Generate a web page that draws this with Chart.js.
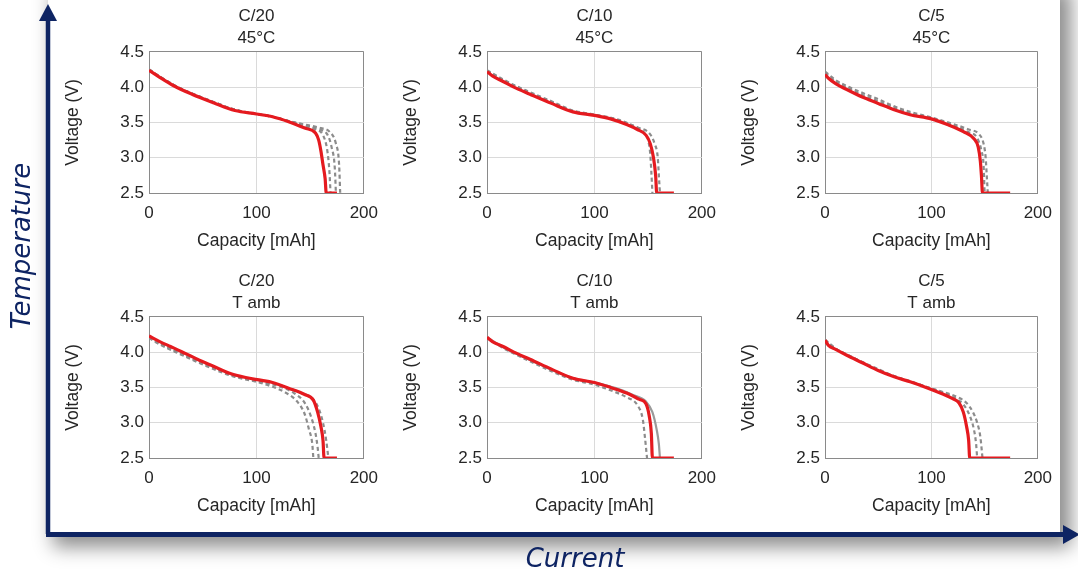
<!doctype html>
<html>
<head>
<meta charset="utf-8">
<title>Discharge curves - current vs temperature</title>
<script src="https://cdn.jsdelivr.net/npm/chart.js@4.4.1/dist/chart.umd.min.js"></script>
<style>
  html, body { margin: 0; padding: 0; background: #fff; }
  body { width: 1078px; height: 575px; position: relative; overflow: hidden; font-family: "Liberation Sans", Arial, sans-serif; }
  #sheet { position: absolute; left: 48px; top: -20px; width: 1012px; height: 552px; background: #fff;
           box-shadow: 8px 12px 18px 3px rgba(0,0,0,0.45); }
  .panel { position: absolute; }
  #arrows { position: absolute; left: 0; top: 0; }
  .big { position: absolute; color: #0e2463; font-style: italic; font-size: 26px; font-family: "DejaVu Sans", sans-serif;
         white-space: nowrap; text-align: center; line-height: 30px; height: 30px; }
</style>
</head>
<body>
<div id="sheet"></div>
<div class="panel" style="left:60px;top:0px"><canvas id="p1" width="328" height="255"></canvas></div>
<div class="panel" style="left:398px;top:0px"><canvas id="p2" width="328" height="255"></canvas></div>
<div class="panel" style="left:736px;top:0px"><canvas id="p3" width="326" height="255"></canvas></div>
<div class="panel" style="left:60px;top:265px"><canvas id="p4" width="328" height="255"></canvas></div>
<div class="panel" style="left:398px;top:265px"><canvas id="p5" width="328" height="255"></canvas></div>
<div class="panel" style="left:736px;top:265px"><canvas id="p6" width="326" height="255"></canvas></div>

<svg id="arrows" width="1078" height="575">
  <line x1="48" y1="534" x2="48" y2="18" stroke="#0e2463" stroke-width="4.5"/>
  <polygon points="39,21 57,21 48,4" fill="#0e2463"/>
  <line x1="46" y1="534.5" x2="1066" y2="534.5" stroke="#0e2463" stroke-width="5"/>
  <polygon points="1063,525 1063,544 1080,534.5" fill="#0e2463"/>
</svg>
<div class="big" style="left:-79px;top:231px;width:200px;transform:rotate(-90deg)">Temperature</div>
<div class="big" style="left:475px;top:543px;width:200px">Current</div>

<script>
// tick labels and panel titles
const rates = ["C/20", "C/10", "C/5"];
const temps = ["45°C", "T amb"];
const xTicks = [0, 100, 200];
const yTicks = [2.5, 3.0, 3.5, 4.0, 4.5];

// C/20, 45°C  [capacity mAh, voltage V]
const c20hot_red = [[0,4.24],[10,4.14],[23,4.02],[40,3.90],[60,3.78],[80,3.67],[100,3.62],[115,3.58],[130,3.51],[145,3.42],[155,3.35],[158,3.25],[160,3.10],[162,2.90],[164,2.70],[165,2.5],[175,2.5]];
const c20hot_g1 = [[0,4.25],[10,4.15],[23,4.03],[40,3.91],[60,3.79],[80,3.68],[100,3.62],[115,3.58],[130,3.52],[145,3.45],[155,3.40],[162,3.32],[166,3.10],[168,2.80],[169,2.5]];
const c20hot_g2 = [[0,4.25],[10,4.15],[23,4.03],[40,3.91],[60,3.79],[80,3.68],[100,3.62],[115,3.58],[130,3.52],[145,3.46],[158,3.40],[166,3.33],[170,3.15],[173,2.85],[174,2.5]];
const c20hot_g3 = [[0,4.25],[10,4.15],[23,4.03],[40,3.91],[60,3.79],[80,3.68],[100,3.62],[115,3.58],[130,3.52],[145,3.47],[160,3.42],[168,3.37],[174,3.20],[177,2.90],[178,2.5]];

// C/10, 45°C
const c10hot_red = [[0,4.22],[5,4.16],[15,4.08],[25,4.00],[40,3.90],[60,3.77],[80,3.65],[100,3.60],[115,3.55],[130,3.47],[140,3.40],[148,3.32],[152,3.20],[155,3.00],[157,2.75],[158,2.5],[174,2.5]];
const c10hot_g1 = [[0,4.24],[15,4.11],[25,4.03],[40,3.93],[60,3.80],[80,3.67],[100,3.61],[120,3.55],[135,3.46],[146,3.36],[150,3.25],[152,3.05],[153,2.80],[154,2.5]];
const c10hot_g2 = [[0,4.23],[15,4.10],[40,3.92],[60,3.79],[80,3.66],[100,3.61],[120,3.54],[140,3.43],[152,3.33],[156,3.20],[159,3.00],[160,2.75],[161,2.5]];

// C/5, 45°C
const c5hot_red = [[0,4.18],[3,4.13],[10,4.05],[20,3.97],[35,3.86],[50,3.77],[65,3.68],[80,3.61],[100,3.55],[115,3.47],[130,3.37],[140,3.27],[144,3.15],[146,2.95],[147,2.75],[148,2.5],[174,2.5]];
const c5hot_g1 = [[0,4.22],[10,4.10],[20,4.02],[35,3.92],[50,3.83],[65,3.73],[80,3.65],[100,3.57],[120,3.48],[135,3.40],[145,3.33],[149,3.20],[151,3.00],[152,2.75],[153,2.5]];
const c5hot_g2 = [[0,4.20],[10,4.08],[20,4.00],[35,3.89],[50,3.80],[65,3.71],[80,3.63],[100,3.56],[120,3.46],[135,3.36],[143,3.28],[147,3.10],[149,2.90],[150,2.5]];

// C/20, T amb
const c20amb_red = [[0,4.23],[10,4.15],[20,4.08],[30,4.01],[45,3.90],[60,3.80],[75,3.70],[90,3.64],[105,3.60],[115,3.57],[130,3.49],[145,3.40],[153,3.32],[157,3.15],[160,2.95],[162,2.75],[163,2.5],[175,2.5]];
const c20amb_g1 = [[0,4.20],[10,4.11],[25,4.00],[45,3.86],[60,3.76],[80,3.65],[100,3.58],[115,3.51],[128,3.42],[138,3.30],[145,3.12],[149,2.90],[152,2.70],[153,2.5]];
const c20amb_g2 = [[0,4.21],[10,4.12],[25,4.01],[45,3.87],[60,3.78],[80,3.66],[100,3.59],[120,3.52],[135,3.42],[145,3.28],[151,3.08],[155,2.85],[157,2.65],[158,2.5]];
const c20amb_g3 = [[0,4.22],[10,4.13],[25,4.02],[45,3.88],[60,3.79],[80,3.67],[100,3.60],[120,3.54],[140,3.43],[153,3.33],[158,3.20],[162,3.00],[165,2.75],[167,2.5]];

// C/10, T amb
const c10amb_red = [[0,4.21],[5,4.15],[15,4.08],[25,4.00],[40,3.90],[60,3.76],[80,3.63],[100,3.57],[115,3.50],[130,3.42],[142,3.33],[148,3.27],[151,3.10],[153,2.85],[154,2.5],[174,2.5]];
const c10amb_g1 = [[0,4.20],[15,4.06],[25,3.98],[40,3.87],[60,3.73],[80,3.61],[100,3.54],[115,3.46],[130,3.36],[140,3.25],[145,3.05],[147,2.80],[149,2.5]];
const c10amb_g2 = [[0,4.21],[15,4.07],[25,3.99],[40,3.89],[60,3.75],[80,3.63],[100,3.57],[120,3.49],[135,3.40],[148,3.30],[154,3.15],[158,2.90],[160,2.70],[161,2.5]];

// C/5, T amb
const c5amb_red = [[0,4.17],[3,4.10],[10,4.04],[20,3.96],[35,3.85],[50,3.74],[65,3.65],[80,3.58],[95,3.50],[110,3.41],[120,3.34],[126,3.28],[130,3.15],[133,2.95],[135,2.75],[136,2.5],[174,2.5]];
const c5amb_g1 = [[0,4.18],[10,4.05],[20,3.97],[35,3.86],[50,3.76],[65,3.66],[80,3.59],[95,3.51],[110,3.44],[125,3.36],[133,3.28],[139,3.15],[143,3.00],[146,2.80],[148,2.5]];
const c5amb_g2 = [[0,4.17],[10,4.05],[20,3.97],[35,3.86],[50,3.75],[65,3.66],[80,3.58],[95,3.51],[110,3.43],[122,3.35],[130,3.26],[136,3.10],[140,2.90],[142,2.70],[143,2.5]];

const panels = [
  { id: "p1", rate: 0, temp: 0, red: c20hot_red, grays: [c20hot_g1, c20hot_g2, c20hot_g3] },
  { id: "p2", rate: 1, temp: 0, red: c10hot_red, grays: [c10hot_g1, c10hot_g2] },
  { id: "p3", rate: 2, temp: 0, red: c5hot_red,  grays: [c5hot_g1, c5hot_g2] },
  { id: "p4", rate: 0, temp: 1, red: c20amb_red, grays: [c20amb_g1, c20amb_g2, c20amb_g3] },
  { id: "p5", rate: 1, temp: 1, red: c10amb_red, grays: [c10amb_g1, c10amb_g2], solid: [1] },
  { id: "p6", rate: 2, temp: 1, red: c5amb_red,  grays: [c5amb_g1, c5amb_g2] }
];

const toXY = arr => arr.map(p => ({ x: p[0], y: p[1] }));
const txt = "#262626";
const edge = "#8a8a8a";
const grid = "#dadada";
const fam = "Liberation Sans";

function makeChart(p) {
  const sets = [{
    data: toXY(p.red), borderColor: "#e51a1f", borderWidth: 3.2
  }];
  p.grays.forEach((g, i) => {
    const solid = p.solid && p.solid.includes(i);
    sets.push({
      data: toXY(g), borderColor: solid ? "#9a9a9a" : "#8c8c8c",
      borderWidth: 2.2, borderDash: solid ? [] : [4, 3]
    });
  });
  new Chart(document.getElementById(p.id), {
    type: "line",
    data: { datasets: sets },
    options: {
      responsive: false,
      animation: false,
      events: [],
      layout: { padding: { right: 0 } },
      elements: { point: { radius: 0 }, line: { cubicInterpolationMode: "monotone", fill: false } },
      plugins: {
        legend: { display: false },
        tooltip: { enabled: false },
        title: {
          display: true, fullSize: false,
          text: [rates[p.rate], temps[p.temp]],
          color: txt, font: { family: fam, size: 17, weight: "normal", lineHeight: 1.32 },
          padding: { top: 5, bottom: 2 }
        }
      },
      scales: {
        x: {
          type: "linear", min: 0, max: 200,
          afterBuildTicks: s => { s.ticks = xTicks.map(v => ({ value: v })); },
          afterFit: s => { s.height = 62; },
          ticks: { color: txt, padding: 10, font: { family: fam, size: 17 } },
          grid: { color: c => (c.tick && c.tick.value === 200) ? edge : grid, drawTicks: false },
          border: { color: edge },
          title: { display: true, text: "Capacity [mAh]", color: txt, padding: 3.5,
                   font: { family: fam, size: 17.5 } }
        },
        y: {
          type: "linear", min: 2.5, max: 4.5,
          afterBuildTicks: s => { s.ticks = yTicks.map(v => ({ value: v })); },
          afterFit: s => { s.width = 89; },
          ticks: { color: txt, padding: 5, font: { family: fam, size: 17 },
                   callback: v => v.toFixed(1) },
          grid: { color: c => (c.tick && c.tick.value === 4.5) ? edge : grid, drawTicks: false },
          border: { color: edge },
          title: { display: true, text: "Voltage (V)", color: txt, padding: 2.5,
                   font: { family: fam, size: 17.5 } }
        }
      }
    }
  });
}

panels.forEach(makeChart);
</script>
</body>
</html>
